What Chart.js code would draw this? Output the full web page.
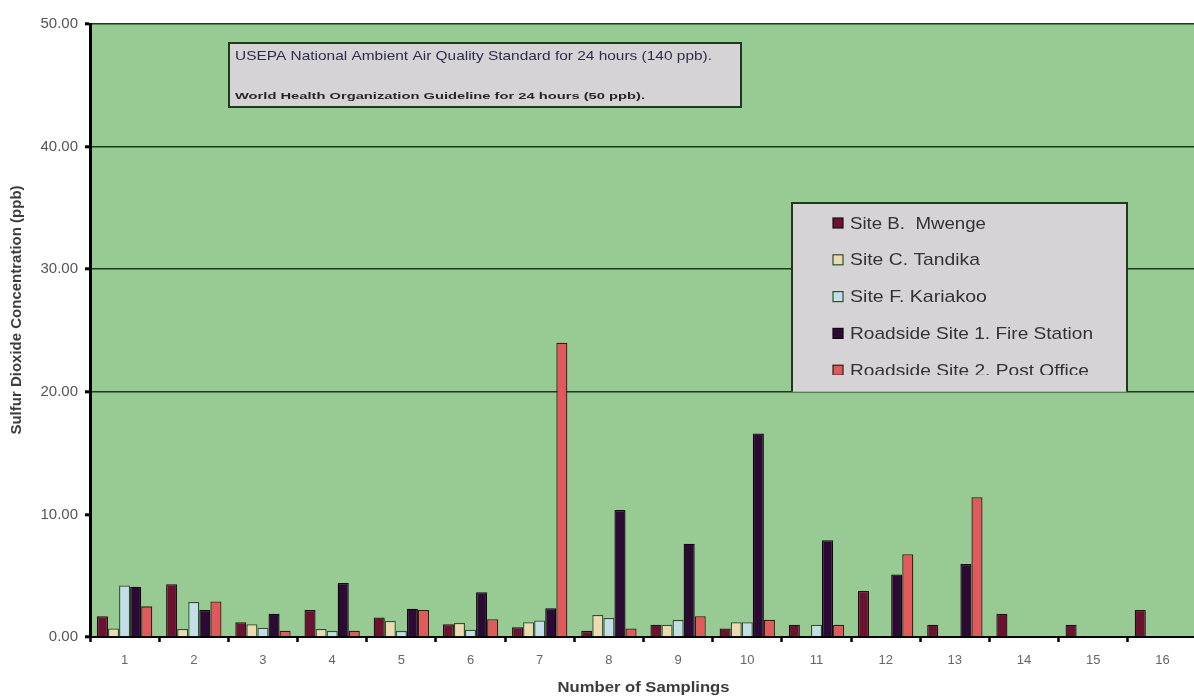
<!DOCTYPE html>
<html>
<head>
<meta charset="utf-8">
<script src="https://cdn.jsdelivr.net/npm/chart.js@4.4.1/dist/chart.umd.min.js"></script>
<style>
  html, body { margin: 0; padding: 0; background: #ffffff; overflow: hidden; width: 1194px; height: 700px; }
  canvas { display: block; }
</style>
</head>
<body>
<canvas id="chart" width="1200" height="700"></canvas>
<script>
// Sampling rounds on the x axis
const categories = ['1', '2', '3', '4', '5', '6', '7', '8', '9', '10', '11', '12', '13', '14', '15', '16'];

// SO2 concentrations (ppb) per monitoring site
const mwenge      = [1.7, 4.3, 1.2, 2.2, 1.6, 1.05, 0.8, 0.5, 1.0, 0.7, 1.0, 3.75, 1.0, 1.9, 1.0, 2.2];
const tandika     = [0.7, 0.65, 1.05, 0.65, 1.3, 1.15, 1.2, 1.8, 1.0, 1.2, null, null, null, null, null, null];
const kariakoo    = [4.2, 2.85, 0.75, 0.5, 0.5, 0.6, 1.35, 1.55, 1.4, 1.2, 1.0, null, null, null, null, null];
const fireStation = [4.1, 2.2, 1.9, 4.4, 2.3, 3.65, 2.35, 10.35, 7.6, 16.6, 7.9, 5.1, 5.95, null, null, null];
const postOffice  = [2.5, 2.9, 0.5, 0.5, 2.2, 1.45, 24.0, 0.7, 1.7, 1.4, 1.0, 6.75, 11.4, null, null, null];

const seriesNames = [
  'Site B.  Mwenge',
  'Site C. Tandika',
  'Site F. Kariakoo',
  'Roadside Site 1. Fire Station',
  'Roadside Site 2. Post Office'
];

// Value axis
const yMin = 0;
const yMax = 50;
const yStep = 10;
const ruledLines = [20, 30, 40, 50];

const noteLines = [
  'USEPA National Ambient Air Quality Standard for 24 hours (140 ppb).',
  'World Health Organization Guideline for 24 hours (50 ppb).'
];
const xTitle = 'Number of Samplings';
const yTitle = 'Sulfur Dioxide Concentration (ppb)';

const fills   = ['#6b1131', '#ecdab0', '#c3dee6', '#2b0a33', '#e0595b'];
const borders = ['#1c1010', '#2f4f2f', '#2f4f2f', '#120414', '#3a1a14'];

const plotGreen = '#98cb94';
const panelGrey = '#d5d3d6';
const edgeDark  = '#1d3a1d';
const fontStack = 'Arial, "Liberation Sans", sans-serif';

// Key label widths, in pixels
const keyWidths = [136, 130, 137, 243, 239];

// Draws text stretched or squeezed to a given width
function fitText(ctx, text, x, y, width) {
  const natural = ctx.measureText(text).width;
  ctx.save();
  ctx.translate(x, y);
  ctx.scale(width / natural, 1);
  ctx.fillText(text, 0, 0);
  ctx.restore();
}

const decorations = {
  id: 'decorations',
  beforeDraw(chart) {
    const { ctx, chartArea: a } = chart;
    ctx.save();
    ctx.fillStyle = plotGreen;
    ctx.fillRect(a.left, a.top, a.right - a.left, a.bottom - a.top);
    ctx.restore();
  },
  afterDraw(chart) {
    const { ctx, chartArea: a } = chart;
    const yScale = chart.scales.y;
    ctx.save();

    // Note panel with the two air-quality standards
    ctx.fillStyle = panelGrey;
    ctx.fillRect(229, 43, 512, 64);
    ctx.strokeStyle = edgeDark;
    ctx.lineWidth = 2;
    ctx.strokeRect(229, 43, 512, 64);
    ctx.textBaseline = 'middle';
    ctx.textAlign = 'left';
    ctx.fillStyle = '#2e2e4a';
    ctx.font = '13px ' + fontStack;
    fitText(ctx, noteLines[0], 235, 56, 477);
    ctx.fillStyle = '#262626';
    ctx.font = 'bold 9.5px ' + fontStack;
    fitText(ctx, noteLines[1], 235, 96, 410);

    // Series key, cut off along the 20 ppb rule
    const keyLeft = 792, keyTop = 203, keyRight = 1127;
    const keyBottom = yScale.getPixelForValue(20);
    ctx.fillStyle = panelGrey;
    ctx.fillRect(keyLeft, keyTop, keyRight - keyLeft, keyBottom - keyTop);
    ctx.strokeStyle = edgeDark;
    ctx.lineWidth = 2;
    ctx.beginPath();
    ctx.moveTo(keyLeft, keyBottom);
    ctx.lineTo(keyLeft, keyTop);
    ctx.lineTo(keyRight, keyTop);
    ctx.lineTo(keyRight, keyBottom);
    ctx.stroke();

    ctx.save();
    ctx.beginPath();
    ctx.rect(keyLeft, keyTop, keyRight - keyLeft, 375 - keyTop);
    ctx.clip();
    ctx.font = '17px ' + fontStack;
    chart.data.datasets.forEach((ds, i) => {
      const cy = 223 + i * 36.8;
      ctx.fillStyle = ds.backgroundColor;
      ctx.fillRect(833, cy - 5, 10, 10);
      ctx.strokeStyle = ds.borderColor;
      ctx.lineWidth = 1.2;
      ctx.strokeRect(833, cy - 5, 10, 10);
      ctx.fillStyle = '#333333';
      fitText(ctx, ds.label, 850, cy + 1, keyWidths[i]);
    });
    ctx.restore();

    // Axis titles
    ctx.fillStyle = '#3c3c3c';
    ctx.textAlign = 'left';
    ctx.font = 'bold 15px ' + fontStack;
    const xMid = (a.left + a.right) / 2;
    fitText(ctx, xTitle, xMid - 86, 688, 172);
    ctx.translate(17, 310);
    ctx.rotate(-Math.PI / 2);
    ctx.textAlign = 'center';
    ctx.font = 'bold 15px ' + fontStack;
    ctx.fillText(yTitle, 0, 0);

    ctx.restore();
  }
};

const seriesValues = [mwenge, tandika, kariakoo, fireStation, postOffice];

new Chart(document.getElementById('chart'), {
  type: 'bar',
  data: {
    labels: categories,
    datasets: seriesValues.map((values, i) => ({
      label: seriesNames[i],
      data: values,
      backgroundColor: fills[i],
      borderColor: borders[i],
      borderWidth: 1.3,
      borderSkipped: 'bottom',
      categoryPercentage: 0.8,
      barPercentage: 1.0
    }))
  },
  options: {
    responsive: false,
    animation: false,
    events: [],
    layout: { padding: { top: 24, right: 3, left: 0, bottom: 0 } },
    plugins: {
      legend: { display: false },
      tooltip: { enabled: false },
      title: { display: false }
    },
    scales: {
      x: {
        offset: true,
        afterFit(scale) { scale.height = 63; },
        border: { display: true, color: '#000000', width: 2 },
        grid: {
          display: true,
          offset: true,
          drawOnChartArea: false,
          drawTicks: true,
          tickLength: 5,
          tickWidth: 2.5,
          tickColor: '#000000'
        },
        ticks: {
          color: '#666666',
          padding: 11,
          font: { family: fontStack, size: 13 }
        }
      },
      y: {
        min: yMin,
        max: yMax,
        afterFit(scale) { scale.width = 90; },
        border: { display: true, color: '#000000', width: 3 },
        grid: {
          display: true,
          drawTicks: true,
          tickLength: 5,
          tickWidth: 3,
          tickColor: '#000000',
          lineWidth: 1.6,
          color: (c) => ruledLines.includes(c.tick.value) ? edgeDark : 'rgba(0,0,0,0)'
        },
        ticks: {
          stepSize: yStep,
          color: '#555555',
          padding: 7,
          font: { family: fontStack, size: 15 },
          callback: (v) => Number(v).toFixed(2)
        }
      }
    }
  },
  plugins: [decorations]
});
</script>
</body>
</html>
